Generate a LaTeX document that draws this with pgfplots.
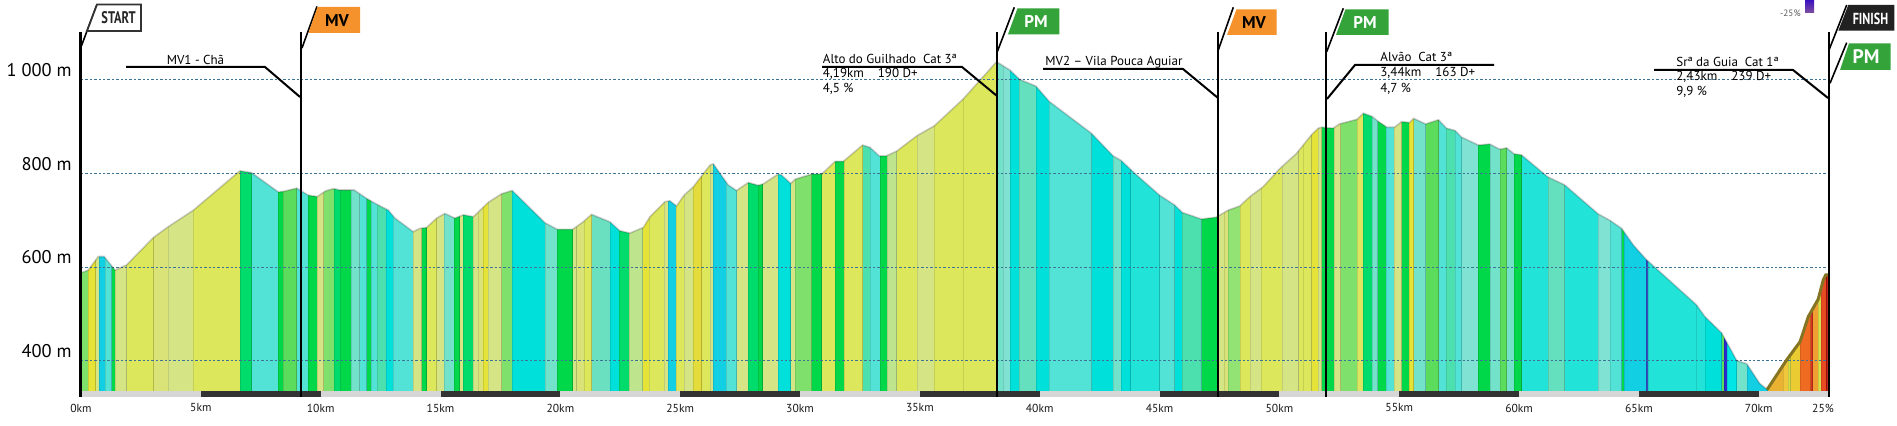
\documentclass[border=0pt]{standalone}
\usepackage{pgfplots}
\pgfplotsset{compat=1.18}
\usepackage{pgfplotstable}
\usepackage{fontspec}
\setmainfont{PT Sans}
\usepackage{graphicx}

\definecolor{lg}{HTML}{7FE06B}
\definecolor{lg2}{HTML}{92E274}
\definecolor{yy}{HTML}{E6E338}
\definecolor{yy2}{HTML}{E4DC3C}
\definecolor{yy3}{HTML}{DCE660}
\definecolor{yl}{HTML}{D5E585}
\definecolor{yl2}{HTML}{D9E378}
\definecolor{yg}{HTML}{DCE75C}
\definecolor{ylg}{HTML}{BEE48E}
\definecolor{cb}{HTML}{12CFE3}
\definecolor{tq}{HTML}{52E3D6}
\definecolor{tq2}{HTML}{22E3D8}
\definecolor{bg}{HTML}{00D84A}
\definecolor{gg}{HTML}{00DC6C}
\definecolor{mg}{HTML}{5CDC5C}
\definecolor{aq}{HTML}{72E2CA}
\definecolor{aq2}{HTML}{7FE2D2}
\definecolor{sg}{HTML}{4CE0AE}
\definecolor{sg2}{HTML}{64E0BE}
\definecolor{cy}{HTML}{00E0DA}
\definecolor{cy2}{HTML}{00E6E6}
\definecolor{aqg}{HTML}{6AE0C0}
\definecolor{bl}{HTML}{3050C0}
\definecolor{bl2}{HTML}{2A2AD0}
\definecolor{o1}{HTML}{E9B232}
\definecolor{o2}{HTML}{F0C63A}
\definecolor{o3}{HTML}{D8E04A}
\definecolor{o4}{HTML}{EACB32}
\definecolor{o5}{HTML}{F06B22}
\definecolor{o6}{HTML}{D83222}
\definecolor{o7}{HTML}{F0A032}
\definecolor{o8}{HTML}{E84A22}
\definecolor{o9}{HTML}{A81010}
\definecolor{mvorange}{HTML}{F5922B}
\definecolor{pmgreen}{HTML}{34A33A}
\definecolor{gridc}{HTML}{3C7396}
\definecolor{climbline}{HTML}{857522}

\pgfplotstableread{
x y
0 588
0.3 594
0.72 623
0.97 623
1.42 594
1.9 605
3.03 664
3.65 687
4.69 722
6.63 806
7.12 802
8.23 761
8.44 762
9.0 769
9.48 754
9.86 751
10.2 763
10.53 768
10.8 765
11.4 765
11.92 747
12.33 735
12.82 722
13.1 705
13.86 676
14.14 683
14.42 685
14.84 705
15.18 715
15.6 705
15.95 712
16.37 708
17.0 739
17.55 757
17.99 764
19.36 695
19.87 681
20.51 681
20.95 697
21.3 713
22.07 697
22.48 678
22.9 673
23.46 685
23.74 708
24.36 740
24.57 742
24.85 731
25.16 754
25.55 772
26.24 818
26.38 821
27.0 776
27.35 764
27.84 781
28.26 775
28.46 778
29.09 799
29.23 797
29.61 779
29.79 788
30.48 799
30.9 799
31.46 826
31.8 826
32.61 861
32.92 856
33.3 838
33.6 838
34.03 848
34.88 881
35.6 902
36.8 959
38.2 1039
38.45 1031
38.76 1021
39.17 1001
39.84 987
40.4 954
42.16 886
43.06 838
43.4 828
43.96 801
45.0 754
45.63 733
45.95 717
46.75 703
47.37 707
47.86 722
48.35 731
48.77 751
49.32 772
50.02 811
50.71 843
51.34 883
51.62 897
51.76 899
52.24 897
52.5 906
53.24 916
53.5 929
53.87 922
54.14 911
54.49 899
54.8 899
55.1 911
55.43 909
55.6 918
56.1 906
56.64 915
56.97 897
57.33 892
57.6 878
58.3 861
58.78 863
59.2 852
59.48 855
59.8 842
60.1 840
61.2 793
61.9 776
63.3 714
63.8 700
64.28 683
64.76 648
65.3 617
67.4 520
67.75 495
68.45 460
69.08 401
69.5 394
70.04 352
70.35 339
71.16 402
71.72 441
72.07 495
72.48 532
72.69 573
72.8 584
72.93 584
}\profile

\pgfplotstableread{
x y
70.35 339
71.16 402
71.72 441
72.07 495
72.48 532
72.69 573
72.8 584
72.93 584
}\climb

\newcommand{\band}[3]{\addplot[fill=#3, draw=black, draw opacity=0.1, line width=0.3pt, forget plot] coordinates {(#1,335.9) (#1,1100) (#2,1100) (#2,335.9)} -- cycle;}
\newcommand{\barseg}[3]{\addplot[fill=#3, draw=none, forget plot] coordinates {(#1,323.1) (#1,335.9) (#2,335.9) (#2,323.1)} -- cycle;}

\begin{document}
\begin{tikzpicture}[px/.style={shift={(-40.5pt,198.5pt)},x=0.5pt,y=-0.5pt}]
\path[use as bounding box, px] (0,0) rectangle (1897,426);
\begin{axis}[at={(0,0)}, anchor=south west, scale only axis,
  width=874pt, height=198.5pt,
  xmin=0, xmax=72.93, ymin=323.1, ymax=1170.8,
  axis line style={draw=none}, major tick length=0pt,
  xtick={0,5,...,70},
  xticklabels={0km,5km,10km,15km,20km,25km,30km,35km,40km,45km,50km,55km,60km,65km,70km},
  xticklabel style={font=\fontsize{5.8}{7}\selectfont, text=black!90, anchor=center, inner sep=0pt, yshift=-5.5pt},
  ytick={400,600,800,1000},
  yticklabels={400 m,600 m,800 m,1 000 m},
  yticklabel style={font=\fontsize{9.2}{11}\selectfont, anchor=east, inner sep=0pt, xshift=-4.5pt, yshift=5pt},
]
% gradient bands
\band{0}{0.3}{lg}
\band{0.3}{0.61}{yy}
\band{0.61}{0.76}{yl}
\band{0.76}{1.0}{cb}
\band{1.0}{1.28}{tq}
\band{1.28}{1.42}{bg}
\band{1.42}{1.9}{yl}
\band{1.9}{3.03}{yg}
\band{3.03}{3.65}{yl2}
\band{3.65}{4.69}{yl}
\band{4.69}{6.63}{yg}
\band{6.63}{7.12}{gg}
\band{7.12}{8.23}{tq}
\band{8.23}{8.44}{bg}
\band{8.44}{9.0}{mg}
\band{9.0}{9.48}{tq}
\band{9.48}{9.86}{bg}
\band{9.86}{10.12}{yl}
\band{10.12}{10.56}{lg}
\band{10.56}{10.8}{gg}
\band{10.8}{11.28}{bg}
\band{11.28}{11.62}{aq}
\band{11.62}{11.92}{tq}
\band{11.92}{12.1}{bg}
\band{12.1}{12.35}{tq}
\band{12.35}{12.74}{sg}
\band{12.74}{13.03}{cy}
\band{13.03}{13.86}{tq}
\band{13.86}{14.21}{yl}
\band{14.21}{14.42}{bg}
\band{14.42}{14.84}{yg}
\band{14.84}{15.15}{yl}
\band{15.15}{15.57}{aq}
\band{15.57}{15.8}{bg}
\band{15.8}{15.93}{yl}
\band{15.93}{16.37}{gg}
\band{16.37}{16.58}{yl}
\band{16.58}{16.79}{yl2}
\band{16.79}{17.0}{yy}
\band{17.0}{17.55}{yl}
\band{17.55}{17.99}{lg}
\band{17.99}{19.36}{cy}
\band{19.36}{19.87}{aq}
\band{19.87}{20.51}{bg}
\band{20.51}{20.68}{yl}
\band{20.68}{20.99}{yl2}
\band{20.99}{21.3}{yg}
\band{21.3}{22.07}{aqg}
\band{22.07}{22.46}{cy}
\band{22.46}{22.88}{gg}
\band{22.88}{23.43}{ylg}
\band{23.43}{23.71}{yy}
\band{23.71}{24.32}{yg}
\band{24.32}{24.5}{yl}
\band{24.5}{24.82}{cb}
\band{24.82}{25.16}{yg}
\band{25.16}{25.55}{yl}
\band{25.55}{25.9}{yy2}
\band{25.9}{26.24}{yg}
\band{26.24}{26.38}{yl}
\band{26.38}{26.93}{cb}
\band{26.93}{27.35}{tq}
\band{27.35}{27.84}{yl}
\band{27.84}{28.26}{gg}
\band{28.26}{28.44}{bg}
\band{28.44}{29.09}{yl}
\band{29.09}{29.61}{cy}
\band{29.61}{29.79}{yl}
\band{29.79}{30.48}{lg}
\band{30.48}{30.9}{bg}
\band{30.9}{31.46}{yg}
\band{31.46}{31.83}{bg}
\band{31.83}{32.61}{yg}
\band{32.61}{32.92}{sg}
\band{32.92}{33.33}{tq}
\band{33.33}{33.64}{bg}
\band{33.64}{34.03}{ylg}
\band{34.03}{34.88}{yg}
\band{34.88}{35.6}{yl}
\band{35.6}{36.8}{yg}
\band{36.8}{38.2}{yg}
\band{38.2}{38.48}{aq}
\band{38.48}{38.76}{aq2}
\band{38.76}{39.15}{cy}
\band{39.15}{39.84}{sg2}
\band{39.84}{40.4}{cy}
\band{40.4}{42.16}{tq}
\band{42.16}{43.06}{cy}
\band{43.06}{43.4}{aq}
\band{43.4}{43.79}{cy}
\band{43.79}{45.0}{tq2}
\band{45.0}{45.63}{tq}
\band{45.63}{45.95}{cy}
\band{45.95}{46.75}{sg}
\band{46.75}{47.43}{bg}
\band{47.43}{47.7}{yl}
\band{47.7}{47.86}{yl2}
\band{47.86}{48.35}{lg2}
\band{48.35}{48.77}{yg}
\band{48.77}{49.25}{yl}
\band{49.25}{50.1}{yg}
\band{50.1}{50.8}{yl}
\band{50.8}{51.0}{yg}
\band{51.0}{51.34}{yg}
\band{51.34}{51.62}{yy}
\band{51.62}{51.76}{yl}
\band{51.76}{52.27}{bg}
\band{52.27}{52.55}{yl}
\band{52.55}{53.24}{lg}
\band{53.24}{53.5}{yy3}
\band{53.5}{53.87}{gg}
\band{53.87}{54.1}{aq}
\band{54.1}{54.46}{bg}
\band{54.46}{54.8}{tq}
\band{54.8}{55.1}{yl}
\band{55.1}{55.4}{bg}
\band{55.4}{55.6}{yy}
\band{55.6}{56.1}{aq}
\band{56.1}{56.64}{mg}
\band{56.64}{56.97}{tq}
\band{56.97}{57.33}{sg}
\band{57.33}{57.6}{tq}
\band{57.6}{58.3}{aq2}
\band{58.3}{58.78}{bg}
\band{58.78}{59.2}{aq}
\band{59.2}{59.48}{mg}
\band{59.48}{59.8}{aq}
\band{59.8}{60.1}{bg}
\band{60.1}{61.2}{tq2}
\band{61.2}{61.9}{sg2}
\band{61.9}{63.3}{tq2}
\band{63.3}{63.8}{aq2}
\band{63.8}{64.28}{tq}
\band{64.28}{64.38}{bg}
\band{64.38}{65.3}{cb}
\band{65.3}{65.38}{bl}
\band{65.38}{67.4}{tq2}
\band{67.4}{67.75}{tq2}
\band{67.75}{68.45}{cy}
\band{68.45}{68.55}{mg}
\band{68.55}{68.68}{bl2}
\band{68.68}{69.08}{cy2}
\band{69.08}{69.5}{aq}
\band{69.5}{70.37}{cb}
\band{70.37}{71.02}{o1}
\band{71.02}{71.23}{o2}
\band{71.23}{71.33}{o3}
\band{71.33}{71.72}{o4}
\band{71.72}{72.17}{o5}
\band{72.17}{72.25}{o6}
\band{72.25}{72.48}{o7}
\band{72.48}{72.6}{o3}
\band{72.6}{72.8}{o8}
\band{72.8}{72.86}{o9}
\band{72.86}{72.93}{o6}
% mask above the profile
\addplot[fill=white, draw=none, forget plot] table {\profile} -- (72.93,1171) -- (0,1171) -- cycle;
% grid lines
\foreach \g in {400,600,800,1000}{
  \edef\tmp{\noexpand\draw[gridc, line width=0.5pt, dash pattern=on 1.2pt off 1pt] (axis cs:0,\g) -- (axis cs:72.8,\g);}\tmp
}
% profile outline
\addplot[draw=black, draw opacity=0.2, line width=0.8pt, forget plot] table {\profile};
\addplot[draw=climbline, line width=1.5pt, forget plot] table {\climb};
% km bar
\barseg{0}{5}{black!16}
\barseg{5}{10}{black!80}
\barseg{10}{15}{black!16}
\barseg{15}{20}{black!80}
\barseg{20}{25}{black!16}
\barseg{25}{30}{black!80}
\barseg{30}{35}{black!16}
\barseg{35}{40}{black!80}
\barseg{40}{45}{black!16}
\barseg{45}{50}{black!80}
\barseg{50}{55}{black!16}
\barseg{55}{60}{black!80}
\barseg{60}{65}{black!16}
\barseg{65}{70}{black!80}
\barseg{70}{72.93}{black!16}
\end{axis}

\begin{scope}[px]
% vertical marker lines
\foreach \xx in {80.5,301,997,1218,1326,1829}{\draw[line width=1.3pt] (\xx,32) -- (\xx,397);}
% START flag
\draw[line width=0.8pt] (81,47) -- (97,4.5);
\draw[fill=white, draw=black!80, line width=0.9pt] (87,31) -- (97,4.5) -- (141,4.5) -- (141,31) -- cycle;
\node[font=\bfseries\fontsize{8.4}{9}\selectfont, text=black!85] at (118.5,18) {\scalebox{0.74}[1]{START}};
% MV1 flag
\draw[line width=0.8pt] (302,48) -- (317,6.5);
\fill[mvorange] (308.5,33) -- (317.5,7) -- (360,7) -- (360,33) -- cycle;
\node[font=\bfseries\fontsize{8.5}{9}\selectfont] at (337,20.5) {MV};
% PM1 flag
\draw[line width=0.8pt] (997.3,51.7) -- (1014.3,7.3);
\fill[pmgreen] (1008,34.3) -- (1017.5,8.3) -- (1059.3,8.3) -- (1059.3,34.3) -- cycle;
\node[font=\bfseries\fontsize{8.5}{9}\selectfont, text=white] at (1036,21.7) {PM};
% MV2 flag
\draw[line width=0.8pt] (1217.7,51.7) -- (1233.3,7.3);
\fill[mvorange] (1227,35) -- (1236.5,9.3) -- (1276.7,9.3) -- (1276.7,35) -- cycle;
\node[font=\bfseries\fontsize{8.5}{9}\selectfont] at (1254,22.5) {MV};
% PM2 flag
\draw[line width=0.8pt] (1326.7,51.7) -- (1343.3,8.3);
\fill[pmgreen] (1336,35) -- (1345.5,9.3) -- (1388.5,9.3) -- (1388.5,35) -- cycle;
\node[font=\bfseries\fontsize{8.5}{9}\selectfont, text=white] at (1365,22.5) {PM};
% FINISH flag
\draw[line width=0.8pt] (1829,50) -- (1846.7,5);
\fill[black!87] (1838.3,30.7) -- (1848.3,5) -- (1894.3,5) -- (1894.3,30.7) -- cycle;
\node[font=\bfseries\fontsize{8}{9}\selectfont, text=white] at (1870.5,18.5) {\scalebox{0.76}[1]{FINISH}};
% PM at finish
\draw[line width=0.8pt] (1830,83.3) -- (1846.7,42.7);
\fill[pmgreen] (1840,70) -- (1849,43.3) -- (1890.7,43.3) -- (1890.7,70) -- cycle;
\node[font=\bfseries\fontsize{9.8}{10}\selectfont, text=white] at (1866,57) {PM};
% legend remnant
\shade[top color={rgb,255:red,58;green,16;blue,192}, bottom color={rgb,255:red,128;green,80;blue,160}] (1805,0) rectangle (1814,13);
\node[font=\fontsize{4.6}{5}\selectfont, text=black!65, anchor=east, inner sep=0pt] at (1801,13) {-25\%};
\node[font=\fontsize{5.8}{7}\selectfont, text=black!90] at (1823,408) {25\%};
% annotations
\begin{scope}[every node/.style={font=\fontsize{6.5}{8}\selectfont, inner sep=0pt}]
\draw[line width=1pt] (126,67) -- (265,67) -- (300,97);
\node at (195.5,59.5) {MV1 - Chã};
\draw[line width=1pt] (822,67) -- (962,67) -- (997,96);
\node[anchor=west] at (822.5,59) {Alto do Guilhado\ \ Cat 3ª};
\node[anchor=west] at (822.5,74) {4,19km\hspace{7pt}190 D+};
\node[anchor=west] at (822.5,89) {4,5 \%};
\draw[line width=1pt] (1043,69) -- (1183,69) -- (1218,98);
\node[anchor=west] at (1045,62) {MV2 – Vila Pouca Aguiar};
\draw[line width=1pt] (1494,65) -- (1355,65) -- (1327,99);
\node[anchor=west] at (1380,57) {Alvão\ \ Cat 3ª};
\node[anchor=west] at (1380,73) {3,44km\hspace{7pt}163 D+};
\node[anchor=west] at (1380,89) {4,7 \%};
\draw[line width=1pt] (1654,70) -- (1793,70) -- (1828,98);
\node[anchor=west] at (1676,62) {Srª da Guia\ \ Cat 1ª};
\node[anchor=west] at (1676,77) {2,43km\hspace{7pt}239 D+};
\node[anchor=west] at (1676,92) {9,9 \%};
\end{scope}
\end{scope}
\end{tikzpicture}
\end{document}
